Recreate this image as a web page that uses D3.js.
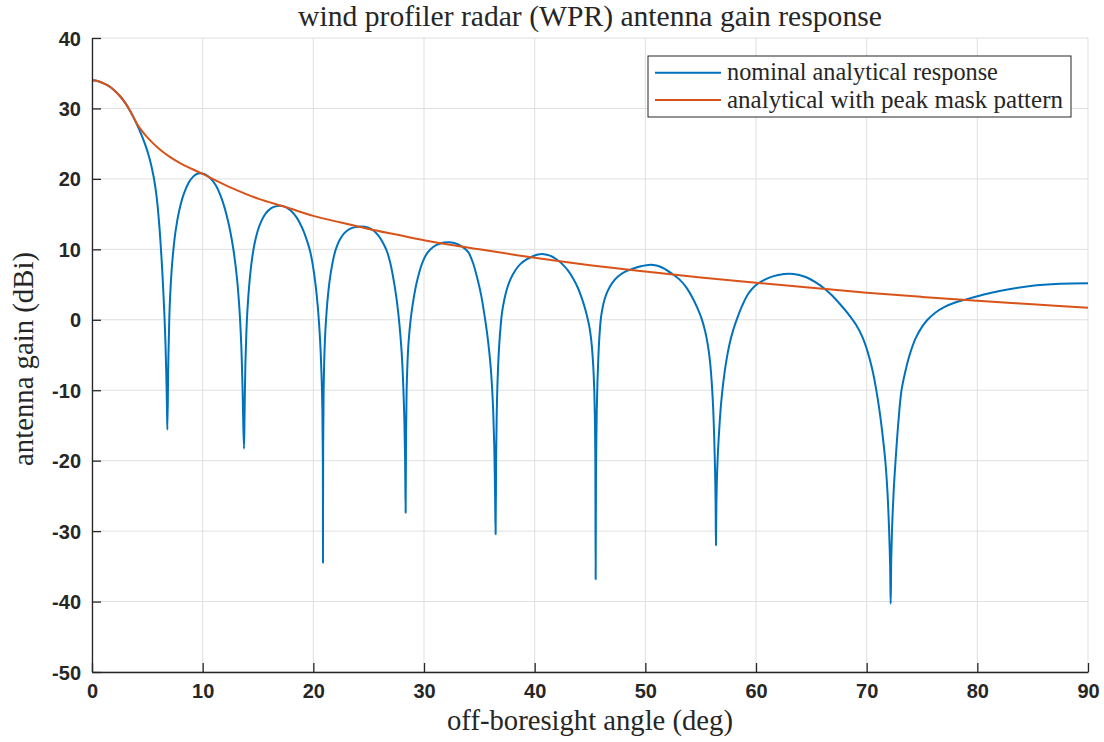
<!DOCTYPE html>
<html><head><meta charset="utf-8">
<script src="https://cdn.jsdelivr.net/npm/d3@7"></script>
<style>
body{margin:0;background:#fff;}
svg{display:block;}
</style></head>
<body>
<svg id="chart" width="1104" height="742"></svg>
<script>
// nominal analytical response: angle (deg) / gain (dBi), lobe by lobe
const nominalAngle = [
 0,0.5,1,1.5,2,2.5,3,3.5,3.86,4.3,4.8,5.2,5.57,5.85,6.05,6.2,6.35,6.47,6.56,6.64,6.71,6.77,6.81,
 6.898,6.986,7.104,7.28,7.545,7.868,8.28,8.72,9.162,9.515,9.75,
 10.068,10.546,11.143,11.74,12.297,12.735,13.093,13.332,13.491,13.611,13.73,
 13.79,13.86,13.95,14.05,14.2,14.4,14.65,14.95,15.3,15.7,16.2,16.6,16.99,
 17.5,18.0,18.5,19.0,19.35,19.7,19.95,20.2,20.4,20.55,20.67,20.76,20.82,20.86,20.87,
 20.89,20.93,20.99,21.08,21.2,21.35,21.55,21.8,22.05,22.4,22.8,23.3,23.8,24.37,
 24.9,25.4,25.9,26.3,26.63,26.95,27.25,27.5,27.7,27.85,27.98,28.08,28.16,28.23,28.29,28.34,
 28.38,28.43,28.5,28.6,28.79,29.0,29.3,29.6,29.9,30.3,30.8,31.4,32.3,
 33.0,33.6,34.0,34.4,34.8,35.15,35.45,35.7,35.9,36.05,36.15,36.25,36.35,36.42,36.47,
 36.52,36.57,36.62,36.7,36.8,36.92,37.05,37.25,37.5,37.8,38.2,38.7,39.3,39.9,40.3,40.63,
 41.1,41.6,42.0,42.5,43.0,43.5,43.9,44.25,44.55,44.75,44.92,45.06,45.17,45.26,45.33,45.39,45.44,45.48,45.51,
 45.54,45.57,45.61,45.67,45.75,45.85,45.97,46.1,46.3,46.6,47.0,47.5,48.1,48.8,49.6,50.48,
 51.0,51.6,52.4,53.1,53.7,54.2,54.7,55.1,55.4,55.65,55.85,56.0,56.12,56.22,56.3,56.35,56.38,
 56.42,56.48,56.57,56.7,56.85,57.05,57.3,57.6,57.95,58.3,58.75,59.3,59.9,60.5,61.2,62.0,63.0,
 63.8,64.6,65.4,66.2,66.9,67.6,68.3,69.0,69.6,70.1,70.5,70.85,71.15,71.45,71.7,71.88,72.02,72.12,72.17,
 72.22,72.31,72.45,72.62,72.85,73.15,73.5,73.9,74.4,75.0,75.5,76.2,77.0,78.0,79.0,80.5,82.0,84.8,87.5,90];
const nominalGain = [
 34.0,33.9,33.6,33.2,32.6,31.8,30.8,29.5,28.4,26.9,24.9,22.9,20.3,17.3,14.0,10.8,6.9,3.2,0,-3.4,-7.5,-12,-15.6,
 -5.7,0.3,4.7,8.7,12.5,15.4,17.8,19.42,20.36,20.73,20.8,
 20.73,20.3,19.2,17.1,14.0,10.4,6.0,1.3,-3.7,-10.2,-18.3,
 -13,-6.3,-1.8,1.5,4.8,7.9,10.5,12.5,14.0,15.1,15.85,16.1,16.17,
 16.0,15.45,14.5,13.0,11.6,9.8,7.8,5.0,1.9,-1.3,-4.8,-8.8,-13,-20,-34.5,
 -18,-10,-5.5,-1.8,1.2,3.9,6.4,8.6,10.1,11.4,12.3,12.9,13.15,13.23,
 13.1,12.7,11.9,10.9,9.8,8.1,5.7,3.2,0.6,-1.9,-4.6,-7.6,-10.8,-14.5,-19.5,-27.4,
 -16,-10,-6.4,-3.3,0,2.4,5.0,6.9,8.3,9.5,10.3,10.8,11.0,
 10.75,10.2,9.6,8.2,6.0,3.6,0.8,-1.9,-4.6,-7.2,-9.6,-12.8,-18,-24.5,-30.46,
 -19,-13.5,-10,-6.5,-3.5,-1.0,1.0,2.8,4.4,5.7,6.9,7.9,8.6,9.05,9.27,9.34,
 9.22,8.95,8.55,7.9,7.0,5.8,4.55,3.1,1.6,0.4,-0.8,-2.2,-3.8,-5.7,-7.7,-10.2,-13.8,-19,-36.85,
 -23,-17.5,-13,-9,-5.5,-2.4,0.0,1.4,2.8,4.1,5.2,6.1,6.75,7.2,7.6,7.82,
 7.7,7.35,6.55,5.7,4.6,3.3,1.7,0.1,-1.6,-3.6,-6.0,-8.9,-12.2,-16.5,-21.5,-26,-32,
 -26,-22,-18.5,-15,-11.8,-8.8,-6.0,-3.5,-1.4,0.2,2.0,3.7,4.8,5.45,5.98,6.35,6.55,
 6.4,6.0,5.3,4.4,3.4,2.2,0.9,-0.6,-2.4,-4.6,-7.0,-9.8,-12.8,-16.5,-20.3,-24.5,-29.5,-35,-40.3,
 -34,-29,-24,-19.8,-14.8,-10,-7.3,-4.9,-2.7,-1.0,0.0,1.0,1.8,2.45,2.9,3.55,4.1,4.8,5.1,5.17];

// analytical with peak mask pattern
const maskAngle = [0,0.5,1,1.5,2,2.5,3,3.5,3.86,4.3,5,6,7,8,10,12.5,15,17.5,20,22.5,25,27.5,30,32.5,35,40,45,50,55,60,65,70,75,80,85,90];
const maskGain  = [34.0,33.9,33.6,33.2,32.6,31.8,30.8,29.5,28.4,27.25,25.9,24.35,23.15,22.2,20.7,18.8,17.2,16.0,14.75,13.8,12.9,12.1,11.3,10.6,10.0,8.8,7.75,6.85,6.0,5.25,4.55,3.85,3.25,2.7,2.2,1.72];

const xTicks = [0,10,20,30,40,50,60,70,80,90];
const yTicks = [-50,-40,-30,-20,-10,0,10,20,30,40];
const seriesNames = ["nominal analytical response","analytical with peak mask pattern"];
const seriesColors = ["#0072BD","#D95319"];

const svg = d3.select("#chart");
const L=92, R=1088, T=38, B=672;
const x = d3.scaleLinear().domain([0,90]).range([L,R]);
const y = d3.scaleLinear().domain([-50,40]).range([B,T]);
const serif = "'Liberation Serif','Times New Roman',serif";

// grid
const g = svg.append("g");
g.selectAll(".vg").data(xTicks).join("line")
 .attr("x1",d=>x(d)).attr("x2",d=>x(d)).attr("y1",T).attr("y2",B)
 .attr("stroke","#dfdfdf").attr("stroke-width",1);
g.selectAll(".hg").data(yTicks).join("line")
 .attr("y1",d=>y(d)).attr("y2",d=>y(d)).attr("x1",L).attr("x2",R)
 .attr("stroke","#dfdfdf").attr("stroke-width",1);

svg.append("clipPath").attr("id","clip").append("rect")
 .attr("x",L).attr("y",T-2).attr("width",R-L).attr("height",B-T+2);

const line = d3.line().x(d=>x(d[0])).y(d=>y(d[1])).curve(d3.curveCatmullRom.alpha(0.5));
const nominal = nominalAngle.map((a,i)=>[a,nominalGain[i]]);
const mask = maskAngle.map((a,i)=>[a,maskGain[i]]);
const plot = svg.append("g").attr("clip-path","url(#clip)");
plot.append("path").datum(nominal).attr("d",line).attr("fill","none")
 .attr("stroke",seriesColors[0]).attr("stroke-width",2).attr("stroke-linejoin","round");
plot.append("path").datum(mask).attr("d",line).attr("fill","none")
 .attr("stroke",seriesColors[1]).attr("stroke-width",2).attr("stroke-linejoin","round");

// axes
const fmt = d=>String(d);
const xAxis = d3.axisBottom(x).tickValues(xTicks).tickFormat(fmt).tickSizeInner(-9).tickSizeOuter(0);
const yAxis = d3.axisLeft(y).tickValues(yTicks).tickFormat(fmt).tickSizeInner(-9).tickSizeOuter(0);
const gx = svg.append("g").attr("transform",`translate(0,${B})`).call(xAxis);
const gy = svg.append("g").attr("transform",`translate(${L},0)`).call(yAxis);
[gx,gy].forEach(a=>{
  a.select(".domain").attr("stroke","#262626").attr("stroke-width",1.3);
  a.selectAll(".tick line").attr("stroke","#262626").attr("stroke-width",1.3);
  a.selectAll(".tick text").attr("fill","#262626")
   .style("font-family","'Liberation Sans',Arial,sans-serif").style("font-size","20px").style("font-weight","bold");
});
gx.selectAll(".tick text").attr("y",12).attr("dy","0.71em");
gy.selectAll(".tick text").attr("x",-11).attr("dy","0.35em");

function fitText(sel, target, base){
  sel.style("font-size",base+"px");
  const w = sel.node().getComputedTextLength();
  sel.style("font-size",(base*target/w).toFixed(2)+"px");
  return sel;
}
const title = svg.append("text").attr("x",(298+882)/2).attr("y",26).attr("text-anchor","middle")
 .style("font-family",serif).attr("fill","#262626").text("wind profiler radar (WPR) antenna gain response");
fitText(title,584,22);
const xl = svg.append("text").attr("x",590).attr("y",730).attr("text-anchor","middle")
 .style("font-family",serif).attr("fill","#262626").text("off-boresight angle (deg)");
fitText(xl,286,22);
const yl = svg.append("text").attr("transform","translate(33,359) rotate(-90)").attr("text-anchor","middle")
 .style("font-family",serif).attr("fill","#262626").text("antenna gain (dBi)");
fitText(yl,214,22);

// legend
const lg = svg.append("g");
lg.append("rect").attr("x",648).attr("y",56).attr("width",423).attr("height",61)
 .attr("fill","#fff").attr("stroke","#262626").attr("stroke-width",1);
const rows=[72.7,100];
seriesNames.forEach((n,i)=>{
  lg.append("line").attr("x1",655).attr("x2",721).attr("y1",rows[i]).attr("y2",rows[i])
    .attr("stroke",seriesColors[i]).attr("stroke-width",2);
  const t = lg.append("text").attr("x",727).attr("y",rows[i]).attr("dy","0.32em")
    .style("font-family",serif).attr("fill","#262626").text(n);
  fitText(t, i===0?271:336, 20);
});
</script>
</body></html>
